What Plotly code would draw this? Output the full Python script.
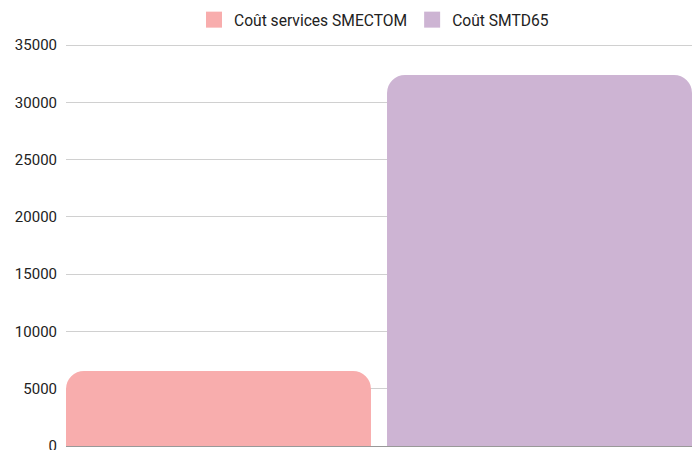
import plotly.graph_objects as go

series_names = ["Coût services SMECTOM", "Coût SMTD65"]
series_values = [6550, 32400]
series_colors = ["#f8adad", "#cdb4d3"]
positions = [0, 1]
y_ticks = [0, 5000, 10000, 15000, 20000, 25000, 30000, 35000]

fig = go.Figure()
for name, val, col, pos in zip(series_names, series_values, series_colors, positions):
    fig.add_trace(go.Bar(x=[pos], y=[val], name=name, marker_color=col,
                         marker_line_width=0, width=0.95, showlegend=False))
for name, col in zip(series_names, series_colors):
    fig.add_trace(go.Scatter(x=[None], y=[None], mode="markers", name=name,
                             marker=dict(symbol="square", size=16, color=col)))

fig.update_layout(
    width=692, height=450,
    margin=dict(l=66, r=0, t=44, b=4, autoexpand=False),
    paper_bgcolor="white", plot_bgcolor="white",
    font=dict(family="Roboto", size=15, color="#222222"),
    barcornerradius=18,
    showlegend=True,
    legend=dict(orientation="h", x=0.5 - 5 / 626, xanchor="center", xref="paper",
                y=1 - 20 / 450, yanchor="middle", yref="container",
                font=dict(size=15.6, color="#222222"), itemwidth=30),
    xaxis=dict(range=[-0.475, 1.475], showticklabels=False, showgrid=False,
               zeroline=False, showline=False, fixedrange=True),
    yaxis=dict(range=[0, 35100], tickvals=y_ticks,
               ticktext=[str(v) for v in y_ticks], showgrid=True,
               gridcolor="#d0d0d0", gridwidth=1, zeroline=True,
               zerolinecolor="#999999", zerolinewidth=1, automargin=False,
               ticklabeloverflow="allow",
               ticks="", ticklabelstandoff=8, showline=False),
)

fig.write_html("out.html", config={"displayModeBar": False},
               post_script="document.body.style.margin='0';document.body.style.overflow='hidden';")
